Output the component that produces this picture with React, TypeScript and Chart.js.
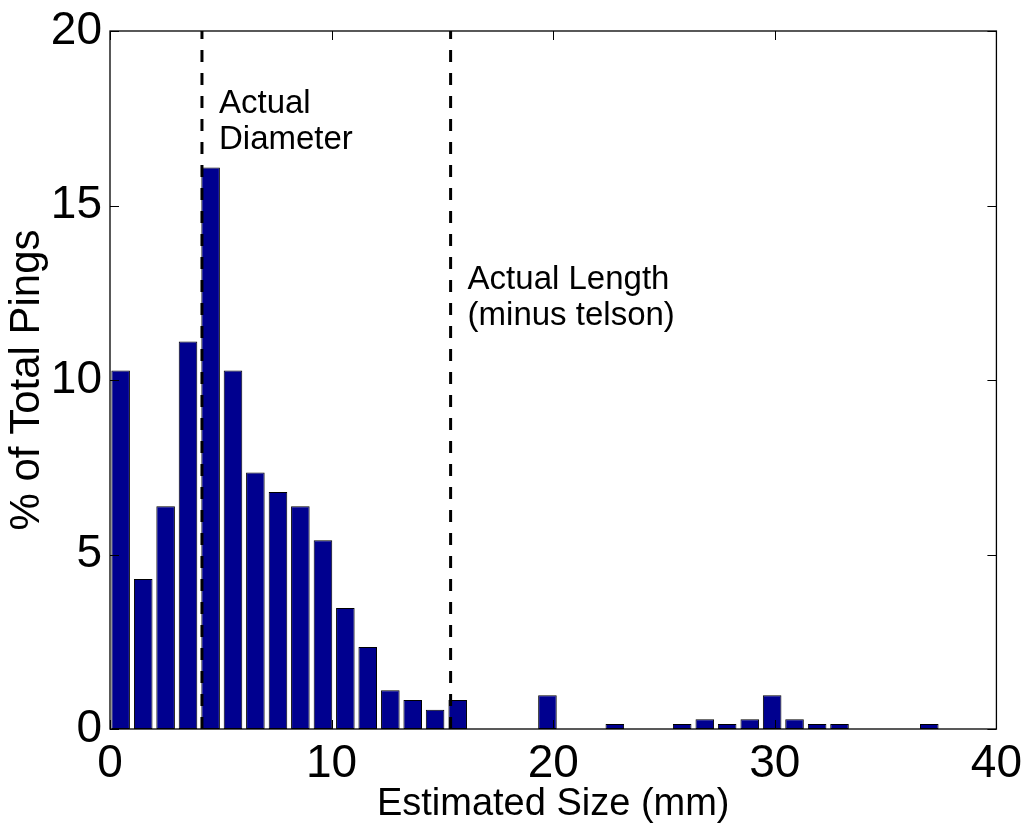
import React, { useEffect, useRef } from "react";
import { Chart, registerables } from "chart.js";

Chart.register(...registerables);

// ---- data ----
const binCenters = [
  0.48, 1.5, 2.51, 3.52, 4.54, 5.55, 6.56, 7.58, 8.59, 9.61, 10.62, 11.63, 12.65,
  13.66, 14.67, 15.69, 16.7, 17.71, 18.73, 19.74, 20.76, 21.77, 22.78, 23.8, 24.81,
  25.82, 26.84, 27.85, 28.87, 29.88, 30.89, 31.91, 32.92, 33.93, 34.95, 35.96, 36.97,
];
const pingPercent = [
  10.27, 4.3, 6.38, 11.1, 16.09, 10.27, 7.35, 6.79, 6.38, 5.41, 3.47, 2.35, 1.11,
  0.83, 0.55, 0.83, 0, 0, 0, 0.97, 0, 0, 0.14, 0, 0,
  0.14, 0.28, 0.14, 0.28, 0.97, 0.28, 0.14, 0.14, 0, 0, 0, 0.14,
];
const xTicks = [0, 10, 20, 30, 40];
const yTicks = [0, 5, 10, 15, 20];
const markerLines = [4.15, 15.37];
const markerLabels = [
  ["Actual", "Diameter"],
  ["Actual Length", "(minus telson)"],
];
const markerLabelY = [17.65, 12.62];

const FONT = "'Liberation Sans', Arial, Helvetica, sans-serif";

const boxPlugin = {
  id: "matlabBox",
  afterDatasetsDraw(chart: any) {
    const { ctx, chartArea, scales } = chart;
    const xs = scales.x;
    const ys = scales.y;
    ctx.save();
    // dashed reference lines
    ctx.strokeStyle = "#000";
    ctx.lineWidth = 3;
    ctx.setLineDash([12, 11]);
    markerLines.forEach((v) => {
      const px = xs.getPixelForValue(v);
      ctx.beginPath();
      ctx.moveTo(px, chartArea.bottom);
      ctx.lineTo(px, chartArea.top);
      ctx.stroke();
    });
    ctx.setLineDash([]);
    // labels
    ctx.fillStyle = "#000";
    ctx.font = `33px ${FONT}`;
    ctx.textAlign = "left";
    ctx.textBaseline = "alphabetic";
    markerLines.forEach((v, i) => {
      const px = xs.getPixelForValue(v) + 17;
      const py = ys.getPixelForValue(markerLabelY[i]);
      markerLabels[i].forEach((t, j) => {
        ctx.fillText(t, px, py + j * 36);
      });
    });
    // box
    ctx.lineWidth = 1.3;
    ctx.strokeRect(
      chartArea.left,
      chartArea.top,
      chartArea.right - chartArea.left,
      chartArea.bottom - chartArea.top
    );
    // inward ticks
    ctx.lineWidth = 1;
    const tl = 9;
    xTicks.forEach((v) => {
      const px = Math.round(xs.getPixelForValue(v)) + 0.5;
      ctx.beginPath();
      ctx.moveTo(px, chartArea.bottom);
      ctx.lineTo(px, chartArea.bottom - tl);
      ctx.moveTo(px, chartArea.top);
      ctx.lineTo(px, chartArea.top + tl);
      ctx.stroke();
    });
    yTicks.forEach((v) => {
      const py = Math.round(ys.getPixelForValue(v)) + 0.5;
      ctx.beginPath();
      ctx.moveTo(chartArea.left, py);
      ctx.lineTo(chartArea.left + tl, py);
      ctx.moveTo(chartArea.right, py);
      ctx.lineTo(chartArea.right - tl, py);
      ctx.stroke();
    });
    ctx.restore();
  },
};

export default function App() {
  const canvasRef = useRef<HTMLCanvasElement | null>(null);

  useEffect(() => {
    const canvas = canvasRef.current;
    if (!canvas) return;
    const chart = new Chart(canvas, {
      type: "bar",
      data: {
        datasets: [
          {
            data: binCenters.map((x, i) => ({ x, y: pingPercent[i] })),
            backgroundColor: "#00008F",
            borderColor: "#000000",
            borderWidth: 1,
            borderSkipped: false,
            categoryPercentage: 1,
            barPercentage: 0.83,
          },
        ],
      },
      options: {
        animation: false,
        responsive: false,
        devicePixelRatio: 1,
        layout: { padding: { top: 25, right: 32, left: 0, bottom: 0 } },
        plugins: {
          legend: { display: false },
          tooltip: { enabled: false },
          title: { display: false },
        },
        scales: {
          x: {
            type: "linear",
            min: 0,
            max: 40,
            offset: false,
            bounds: "ticks",
            afterBuildTicks: (s: any) => {
              s.ticks = xTicks.map((v) => ({ value: v }));
            },
            afterFit: (s: any) => {
              s.height = 104;
            },
            grid: { display: false, drawTicks: false, offset: false },
            border: { display: false },
            ticks: {
              color: "#000",
              padding: 12,
              maxRotation: 0,
              font: { family: FONT, size: 46, lineHeight: 1 },
            },
            title: {
              display: true,
              text: "Estimated Size (mm)",
              color: "#000",
              font: { family: FONT, size: 38, lineHeight: 1 },
              padding: { top: 0, bottom: 9 },
            },
          },
          y: {
            min: 0,
            max: 20,
            afterBuildTicks: (s: any) => {
              s.ticks = yTicks.map((v) => ({ value: v }));
            },
            afterFit: (s: any) => {
              s.width = 110;
            },
            grid: { display: false, drawTicks: false },
            border: { display: false },
            ticks: {
              color: "#000",
              padding: 8,
              font: { family: FONT, size: 46, lineHeight: 1 },
            },
            title: {
              display: true,
              text: "% of Total Pings",
              color: "#000",
              font: { family: FONT, size: 42, lineHeight: 1 },
              padding: { top: 6, bottom: 0 },
            },
          },
        },
      } as any,
      plugins: [boxPlugin],
    });
    return () => chart.destroy();
  }, []);

  return (
    <div
      style={{
        position: "absolute",
        left: 0,
        top: 0,
        width: 1034,
        height: 833,
        background: "#fff",
      }}
    >
      <canvas
        ref={canvasRef}
        width={1034}
        height={833}
        style={{ display: "block", width: 1034, height: 833 }}
      />
    </div>
  );
}
